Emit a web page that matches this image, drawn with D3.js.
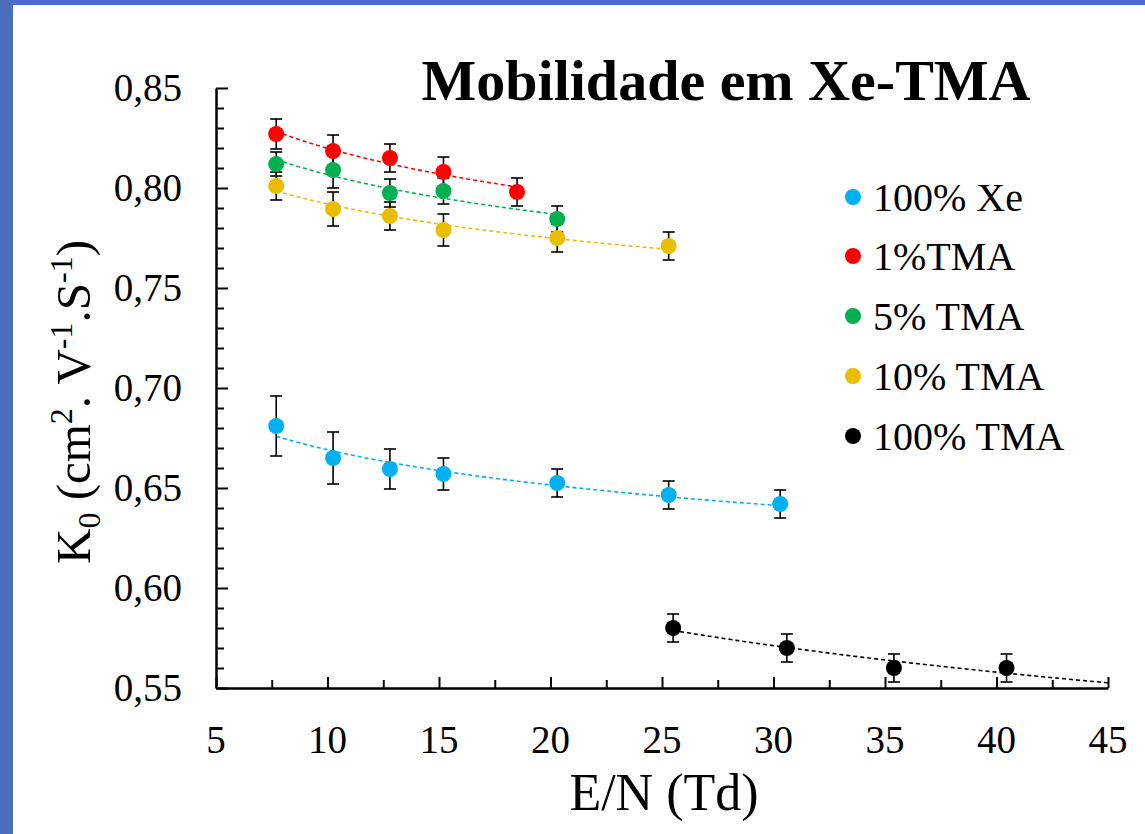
<!DOCTYPE html>
<html>
<head>
<meta charset="utf-8">
<script src="https://cdn.jsdelivr.net/npm/d3@7"></script>
<style>
  html, body { margin: 0; padding: 0; background: #4b6dbe; }
  svg { display: block; }
</style>
</head>
<body>
<svg id="chart" width="1145" height="834" font-family="'Liberation Serif', Tinos, 'Times New Roman', serif"></svg>
<script>
// Ion mobility K0 vs reduced field E/N, Xe-TMA mixtures
const seriesNames = ["100% Xe", "1%TMA", "5% TMA", "10% TMA", "100% TMA"];
const seriesColors = ["#00b0f0", "#ff0000", "#00b050", "#e9bd00", "#000000"];

const xe100X   = [7.7, 10.25, 12.8, 15.2, 20.3, 25.3, 30.3];
const xe100Y   = [0.681, 0.665, 0.6595, 0.657, 0.6525, 0.6465, 0.642];
const xe100Err = [0.015, 0.013, 0.010, 0.008, 0.007, 0.007, 0.007];

const tma1X   = [7.7, 10.25, 12.8, 15.2, 18.5];
const tma1Y   = [0.827, 0.8185, 0.815, 0.808, 0.798];
const tma1Err = [0.0075, 0.008, 0.007, 0.0075, 0.007];

const tma5X   = [7.7, 10.25, 12.8, 15.2, 20.3];
const tma5Y   = [0.812, 0.809, 0.7975, 0.7985, 0.7845];
const tma5Err = [0.006, 0.009, 0.007, 0.0065, 0.0065];

const tma10X   = [7.7, 10.25, 12.8, 15.2, 20.3, 25.3];
const tma10Y   = [0.801, 0.7895, 0.786, 0.779, 0.775, 0.771];
const tma10Err = [0.007, 0.0085, 0.007, 0.008, 0.007, 0.007];

const tma100X   = [25.5, 30.6, 35.4, 40.45];
const tma100Y   = [0.580, 0.570, 0.560, 0.560];
const tma100Err = [0.007, 0.007, 0.007, 0.007];

// power-law trendlines run to this E/N value
const trendEnd = [30.3, 18.5, 20.3, 25.3, 45];

const xTicks = [5, 10, 15, 20, 25, 30, 35, 40, 45];
const yTicks = [0.55, 0.60, 0.65, 0.70, 0.75, 0.80, 0.85];

const series = [
  { x: xe100X,  y: xe100Y,  e: xe100Err },
  { x: tma1X,   y: tma1Y,   e: tma1Err },
  { x: tma5X,   y: tma5Y,   e: tma5Err },
  { x: tma10X,  y: tma10Y,  e: tma10Err },
  { x: tma100X, y: tma100Y, e: tma100Err }
].map((s, i) => ({
  name: seriesNames[i], color: seriesColors[i], end: trendEnd[i],
  pts: s.x.map((x, j) => ({ x, y: s.y[j], e: s.e[j] }))
}));

const svg = d3.select("#chart");
const W = 1145, H = 834;

// slide background and white panel
svg.append("rect").attr("width", W).attr("height", H).attr("fill", "#4b6dbe");
svg.append("rect").attr("x", 13).attr("y", 5).attr("width", W - 13).attr("height", H - 5).attr("fill", "#fff");

const x = d3.scaleLinear().domain([5, 45]).range([216, 1108]);
const y = d3.scaleLinear().domain([0.55, 0.85]).range([688, 88]);

// axes: ticks point inward, minor ticks between labels
const gx = svg.append("g").attr("transform", `translate(0,${y(0.55)})`);
gx.call(d3.axisBottom(x).tickValues(d3.range(5, 45.01, 2.5)).tickSize(0).tickFormat(""));
gx.select(".domain").attr("stroke", "#000").attr("stroke-width", 2.5);
gx.selectAll(".tick").append("line")
  .attr("y2", d => (d % 5 === 0 ? -11 : -8))
  .attr("stroke", "#000").attr("stroke-width", 2);
xTicks.forEach(t => {
  svg.append("text").attr("x", x(t)).attr("y", 753)
    .attr("text-anchor", "middle").attr("font-size", 39).text(t);
});

const gy = svg.append("g").attr("transform", `translate(${x(5)},0)`);
gy.call(d3.axisLeft(y).tickValues(d3.range(0, 31).map(i => 0.55 + i * 0.01)).tickSize(0).tickFormat(""));
gy.select(".domain").attr("stroke", "#000").attr("stroke-width", 2.5);
gy.selectAll(".tick").append("line")
  .attr("x2", (d, i) => (i % 5 === 0 ? 12 : 8))
  .attr("stroke", "#000").attr("stroke-width", 2);
yTicks.forEach(t => {
  svg.append("text").attr("x", 182).attr("y", y(t) + 13)
    .attr("text-anchor", "end").attr("font-size", 39)
    .text(t.toFixed(2).replace(".", ","));
});

// least-squares power fit y = a * x^b
function powerFit(pts) {
  const lx = pts.map(p => Math.log(p.x)), ly = pts.map(p => Math.log(p.y));
  const mx = d3.mean(lx), my = d3.mean(ly);
  const b = d3.sum(lx, (v, i) => (v - mx) * (ly[i] - my)) / d3.sum(lx, v => (v - mx) ** 2);
  const a = Math.exp(my - b * mx);
  return xv => a * Math.pow(xv, b);
}

const line = d3.line().x(d => x(d[0])).y(d => y(d[1]));
series.forEach(s => {
  const f = powerFit(s.pts);
  const x0 = s.pts[0].x;
  const samples = d3.range(0, 61).map(k => {
    const xv = x0 + (s.end - x0) * k / 60;
    return [xv, f(xv)];
  });
  svg.append("path").datum(samples).attr("d", line)
    .attr("fill", "none").attr("stroke", s.color)
    .attr("stroke-width", 1.6).attr("stroke-dasharray", "4,3");
});

// error bars
series.forEach(s => {
  const g = svg.append("g").attr("stroke", "#000").attr("stroke-width", 1.6);
  s.pts.forEach(p => {
    const cx = x(p.x);
    g.append("line").attr("x1", cx).attr("x2", cx).attr("y1", y(p.y - p.e)).attr("y2", y(p.y + p.e));
    g.append("line").attr("x1", cx - 6).attr("x2", cx + 6).attr("y1", y(p.y - p.e)).attr("y2", y(p.y - p.e));
    g.append("line").attr("x1", cx - 6).attr("x2", cx + 6).attr("y1", y(p.y + p.e)).attr("y2", y(p.y + p.e));
  });
});

// markers
series.forEach(s => {
  svg.append("g").selectAll("circle").data(s.pts).join("circle")
    .attr("cx", d => x(d.x)).attr("cy", d => y(d.y)).attr("r", 8)
    .attr("fill", s.color);
});

// title
svg.append("text").attr("x", 726).attr("y", 100).attr("text-anchor", "middle")
  .attr("font-size", 58).attr("font-weight", "bold").text("Mobilidade em Xe-TMA");

// axis titles
svg.append("text").attr("x", 664).attr("y", 810).attr("text-anchor", "middle")
  .attr("font-size", 52).text("E/N (Td)");

const yt = svg.append("text").attr("transform", "translate(90,402) rotate(-90)")
  .attr("text-anchor", "middle").attr("font-size", 49);
yt.append("tspan").text("K");
yt.append("tspan").attr("font-size", 32).attr("dy", 10).text("0");
yt.append("tspan").attr("dy", -10).text(" (cm");
yt.append("tspan").attr("font-size", 32).attr("dy", -18).text("2");
yt.append("tspan").attr("dy", 18).text(". V");
yt.append("tspan").attr("font-size", 32).attr("dy", -18).text("-1");
yt.append("tspan").attr("dy", 18).text(".S");
yt.append("tspan").attr("font-size", 32).attr("dy", -18).text("-1");
yt.append("tspan").attr("dy", 18).text(")");

// legend
const legendY = [197, 256, 316, 376, 436];
series.forEach((s, i) => {
  svg.append("circle").attr("cx", 853).attr("cy", legendY[i]).attr("r", 8).attr("fill", s.color);
  svg.append("text").attr("x", 873).attr("y", legendY[i] + 14).attr("font-size", 40).text(s.name);
});
</script>
</body>
</html>
